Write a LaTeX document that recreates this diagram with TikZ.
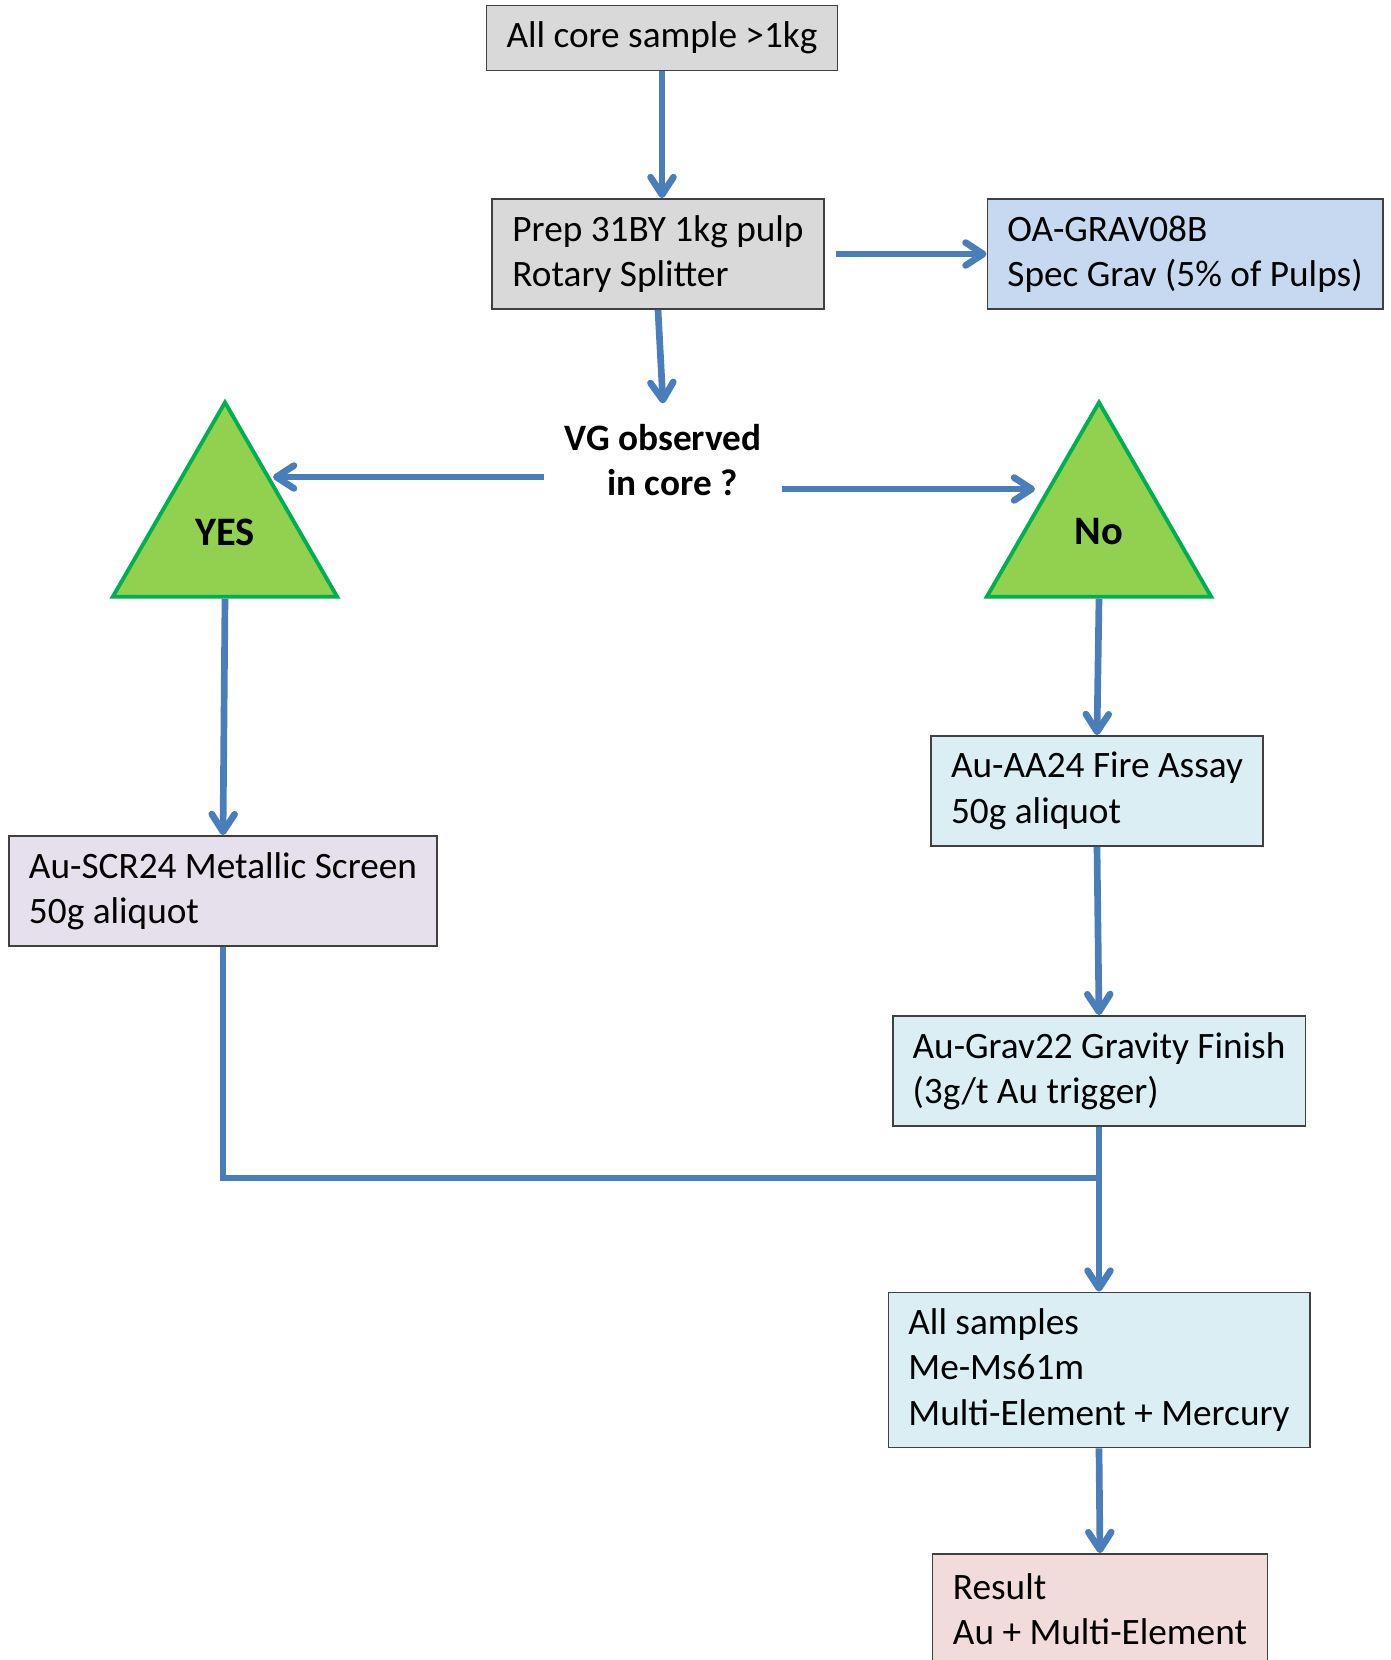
\documentclass[tikz,border=0pt]{standalone}
\usepackage{fontspec}
\setmainfont{Carlito}
\usetikzlibrary{arrows.meta,shapes.geometric}
\definecolor{flowblue}{HTML}{4A7EBB}
\definecolor{boxgray}{HTML}{D9D9D9}
\definecolor{specblue}{HTML}{C6D9F1}
\definecolor{screenlilac}{HTML}{E5E0EC}
\definecolor{assayblue}{HTML}{DBEEF4}
\definecolor{resultpink}{HTML}{F2DCDB}
\definecolor{trigreen}{HTML}{00B050}
\definecolor{trifill}{HTML}{92D050}

\begin{document}
\begin{tikzpicture}[
  x=0.01cm, y=-0.01cm,
  every node/.style={font=\fontsize{10.6}{12.9}\selectfont},
  box/.style={draw=black!75, line width=0.5pt, align=left, inner xsep=0.2cm, minimum height=1.1cm},
  tri/.style={regular polygon, regular polygon sides=3, minimum size=2.59cm, inner sep=0pt,
    draw=trigreen, fill=trifill, line width=1.1pt, font=\fontsize{11.5}{14}\selectfont\bfseries},
  arr/.style={flowblue, line width=1.9pt, -{Straight Barb[length=5pt,width=6.5pt,round]}}
]
  \clip (0,0) rectangle (1391,1660);

  \node[box, fill=boxgray, minimum width=3.51cm, minimum height=0.65cm] (core) at (662,38) {All core sample >1kg};
  \node[box, fill=boxgray, minimum width=3.32cm] (prep) at (658,254) {Prep 31BY 1kg pulp\\Rotary Splitter};
  \node[box, fill=specblue, minimum width=3.95cm] (spec) at (1185,254) {OA-GRAV08B\\Spec Grav (5\% of Pulps)};
  \node[font=\fontsize{10.6}{12.9}\selectfont\bfseries, align=center, inner sep=0.2cm] (vg) at (663,460) {VG observed\\\hspace*{0.5em}in core ?};
  \node[tri] (yes) at (225,532) {YES};
  \node[tri] (no) at (1099,532) {No};
  \node[box, fill=screenlilac, minimum width=4.27cm] (scr) at (223,891) {Au-SCR24 Metallic Screen\\50g aliquot};
  \node[box, fill=assayblue, minimum width=3.31cm] (fire) at (1097,791) {Au-AA24 Fire Assay\\50g aliquot};
  \node[box, fill=assayblue, minimum width=4.12cm] (grav) at (1099,1071) {Au-Grav22 Gravity Finish\\(3g/t Au trigger)};
  \node[box, fill=assayblue, minimum width=4.2cm, minimum height=1.55cm] (multi) at (1099,1370) {All samples\\Me-Ms61m\\Multi-Element + Mercury};
  \node[box, fill=resultpink, minimum width=3.35cm] (result) at (1100,1609) {Result\\Au + Multi-Element};

  \coordinate (yestip) at (273,477);
  \coordinate (notip) at (1035,489);
  \coordinate (join) at (225,1178);

  \draw[arr] (core.south) -- (core.south |- prep.north);
  \draw[arr, shorten <=0.11cm] (prep.east) -- (spec.west);
  \draw[arr] (prep.south) -- (vg.north);
  \draw[arr] (vg.west |- yestip) -- (yestip);
  \draw[arr] (vg.east |- notip) -- (notip);
  \draw[arr] (yes.side 2) -- (scr.north);
  \draw[arr] (no.side 2) -- (fire.north);
  \draw[arr] (fire.south) -- (grav.north);
  \draw[arr] (grav.south) -- (multi.north);
  % Yes branch joins the main line
  \draw[flowblue, line width=1.9pt] (scr.south) |- (grav.south |- join);
  \draw[arr] (multi.south) -- (result.north);
\end{tikzpicture}
\end{document}
